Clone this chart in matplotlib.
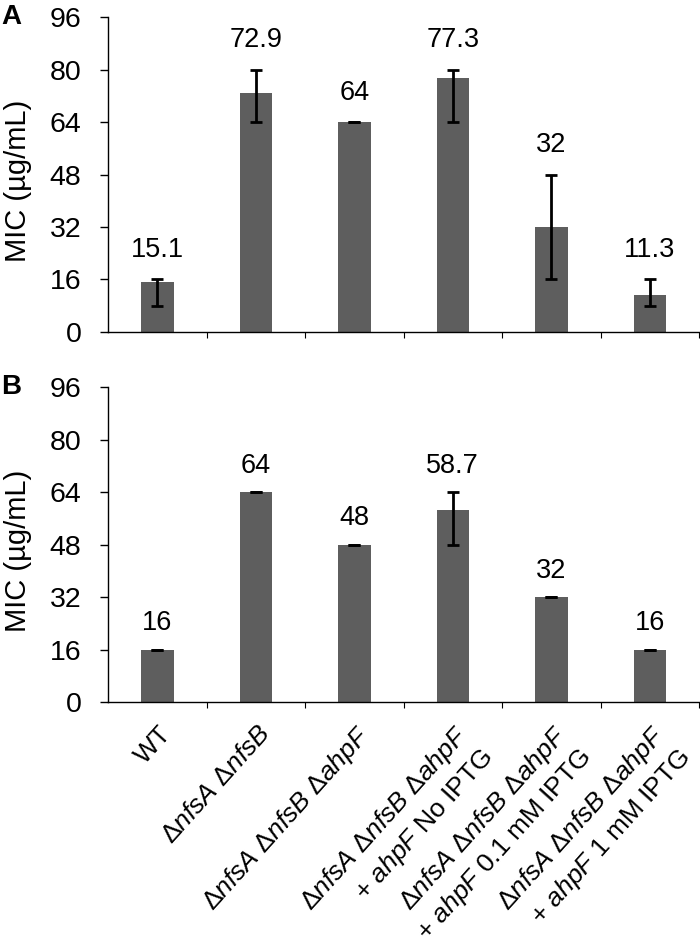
import matplotlib
matplotlib.use("Agg")
import matplotlib.pyplot as plt
import matplotlib.transforms as mtransforms
import numpy as np

plt.rcParams["font.family"] = ["Liberation Sans", "DejaVu Sans"]
plt.rcParams["mathtext.fontset"] = "custom"
plt.rcParams["mathtext.rm"] = "Liberation Sans"
plt.rcParams["mathtext.it"] = "Liberation Sans:italic"

# strain labels (italic gene names via mathtext)
strains = [
    "WT",
    r"Δ$\it{nfsA}$ Δ$\it{nfsB}$",
    r"Δ$\it{nfsA}$ Δ$\it{nfsB}$ Δ$\it{ahpF}$",
    "Δ$\\it{nfsA}$ Δ$\\it{nfsB}$ Δ$\\it{ahpF}$\n+ $\\it{ahpF}$ No IPTG",
    "Δ$\\it{nfsA}$ Δ$\\it{nfsB}$ Δ$\\it{ahpF}$\n+ $\\it{ahpF}$ 0.1 mM IPTG",
    "Δ$\\it{nfsA}$ Δ$\\it{nfsB}$ Δ$\\it{ahpF}$\n+ $\\it{ahpF}$ 1 mM IPTG",
]

# panel A
mic_a = [15.1, 72.9, 64, 77.3, 32, 11.3]
labels_a = ["15.1", "72.9", "64", "77.3", "32", "11.3"]
low_a = [8, 64, 64, 64, 16, 8]
high_a = [16, 80, 64, 80, 48, 16]

# panel B
mic_b = [16, 64, 48, 58.7, 32, 16]
labels_b = ["16", "64", "48", "58.7", "32", "16"]
low_b = [16, 64, 48, 48, 32, 16]
high_b = [16, 64, 48, 64, 32, 16]

yticks = [0, 16, 32, 48, 64, 80, 96]

BAR = "#5e5e5e"

fig = plt.figure(figsize=(7.0, 9.41), dpi=100)
ax_a = fig.add_axes([0.1543, 0.6472, 0.8443, 0.3347])
ax_b = fig.add_axes([0.1543, 0.2536, 0.8443, 0.3347])


def panel(ax, mic, labels, low, high, offset):
    x = np.arange(len(mic))
    mic = np.array(mic, dtype=float)
    yerr = [mic - np.array(low), np.array(high) - mic]
    ax.bar(x, mic, width=0.33, color=BAR, zorder=2)
    ax.errorbar(x, mic, yerr=yerr, fmt="none", ecolor="black",
                elinewidth=2, capsize=4.5, capthick=2, zorder=3)
    for xi, top, lab in zip(x, high, labels):
        ax.annotate(lab, (xi, top), xytext=(0, offset), textcoords="offset points",
                    ha="center", va="center", fontsize=19.5)

    ax.set_xlim(-0.5, len(mic) - 0.5)
    ax.set_ylim(0, 96)
    ax.set_yticks(yticks)
    ax.tick_params(axis="y", labelsize=20.5, length=6, width=1, pad=13)
    ax.set_xticks(np.arange(0.5, len(mic), 1.0))
    ax.set_xticklabels([])
    ax.tick_params(axis="x", which="major", length=4, width=0.8)
    for s in ["top", "right"]:
        ax.spines[s].set_visible(False)
    for s in ["left", "bottom"]:
        ax.spines[s].set_linewidth(1.0)
    ax.set_ylabel("MIC (µg/mL)", fontsize=21)
    ax.yaxis.set_label_coords(-0.129, 0.48)


panel(ax_a, mic_a, labels_a, low_a, high_a, 21)
panel(ax_b, mic_b, labels_b, low_b, high_b, 19)

# rotated category labels under panel B, top-right corner hung below each bar
lab_trans = mtransforms.offset_copy(ax_b.get_xaxis_transform(), fig=fig,
                                    x=1, y=-19, units="dots")
for i, lab in enumerate(strains):
    ax_b.text(i, 0, lab, transform=lab_trans, rotation=48, ha="right", va="top",
              rotation_mode="anchor", multialignment="right", fontsize=19,
              linespacing=1.25)

fig.text(0.002, 1 - 4 / 941, "A", fontsize=20, fontweight="bold", va="top")
fig.text(0.002, 1 - 374 / 941, "B", fontsize=20, fontweight="bold", va="top")

fig.savefig("out.png", dpi=100)
